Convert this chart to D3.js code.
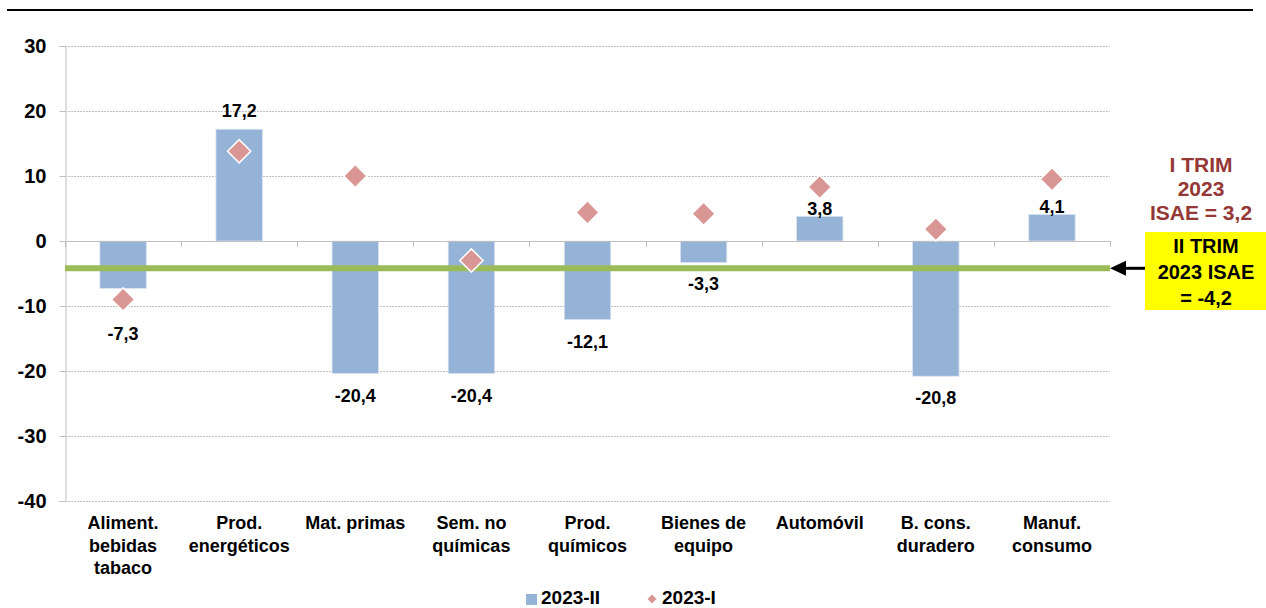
<!DOCTYPE html>
<html><head><meta charset="utf-8">
<script src="https://cdn.jsdelivr.net/npm/d3@7"></script>
<style>body{margin:0;background:#fff}svg{display:block;font-family:"Liberation Sans",Arial,sans-serif;font-weight:bold}</style>
</head><body><svg id="c" width="1266" height="608"></svg>
<script>
const categories = [["Aliment.","bebidas","tabaco"],["Prod.","energéticos"],["Mat. primas"],["Sem. no","químicas"],["Prod.","químicos"],["Bienes de","equipo"],["Automóvil"],["B. cons.","duradero"],["Manuf.","consumo"]];
const series2023II = [-7.3, 17.2, -20.4, -20.4, -12.1, -3.3, 3.8, -20.8, 4.1];
const series2023I = [-9.0, 13.8, 10.0, -3.0, 4.4, 4.2, 8.3, 1.8, 9.5];
const yTicks = [30, 20, 10, 0, -10, -20, -30, -40];
const isaeII = -4.2;
const legendNames = ["2023-II", "2023-I"];
const noteI = ["I TRIM", "2023", "ISAE = 3,2"];
const noteII = ["II TRIM", "2023 ISAE", "= -4,2"];

const svg = d3.select("#c");
const L = 65, R = 1110;
const y = d3.scaleLinear().domain([-40, 30]).range([501, 46]);
const idx = categories.map((d, i) => i);
const x = d3.scaleBand().domain(idx).range([L, R]).paddingInner(0.6).paddingOuter(0.3);
const step = x.step();
const fmt = v => d3.format(".1f")(v).replace(".", ",").replace("−", "-");

// top rule
svg.append("line").attr("x1", 7).attr("x2", 1253).attr("y1", 10).attr("y2", 10).attr("stroke", "#000").attr("stroke-width", 2);

// gridlines
svg.append("g").selectAll("line").data(yTicks.filter(t => t !== 0)).join("line")
  .attr("x1", L).attr("x2", R).attr("y1", d => y(d) + 0.5).attr("y2", d => y(d) + 0.5)
  .attr("stroke", "#c0c0c0").attr("stroke-dasharray", "2,1").attr("stroke-width", 1);

// y axis
const ya = svg.append("g").attr("transform", `translate(${L + 0.5},0)`)
  .call(d3.axisLeft(y).tickValues(yTicks).tickSize(6).tickPadding(13).tickFormat(d => d3.format("d")(d).replace("−", "-")));
ya.select(".domain").attr("stroke", "#bfbfbf");
ya.selectAll(".tick line").attr("stroke", "#bfbfbf");
ya.selectAll("text").attr("font-size", 20).attr("font-weight", "bold").attr("fill", "#000").attr("font-family", "Liberation Sans, Arial, sans-serif");

// bars
svg.append("g").selectAll("rect").data(series2023II).join("rect")
  .attr("x", (d, i) => x(i)).attr("width", x.bandwidth())
  .attr("y", d => y(Math.max(0, d))).attr("height", d => Math.abs(y(d) - y(0)))
  .attr("fill", "#95b3d7").attr("stroke", "#dbe5f1").attr("stroke-width", 0.8);

// zero axis with category ticks
svg.append("line").attr("x1", L).attr("x2", R).attr("y1", y(0) + 0.5).attr("y2", y(0) + 0.5).attr("stroke", "#bfbfbf");
svg.append("g").selectAll("line").data(d3.range(categories.length + 1)).join("line")
  .attr("x1", i => Math.round(L + i * step) + 0.5).attr("x2", i => Math.round(L + i * step) + 0.5)
  .attr("y1", y(0)).attr("y2", y(0) + 6).attr("stroke", "#bfbfbf");

// green ISAE line
svg.append("line").attr("x1", L).attr("x2", R).attr("y1", y(isaeII)).attr("y2", y(isaeII))
  .attr("stroke", "#9bbb59").attr("stroke-width", 6);

// diamonds
const dsym = d3.symbol(d3.symbolSquare, 270);
svg.append("g").selectAll("path").data(series2023I).join("path")
  .attr("d", dsym)
  .attr("transform", (d, i) => `translate(${x(i) + x.bandwidth() / 2},${y(d)}) rotate(45)`)
  .attr("fill", "#d99694").attr("stroke", "#fff").attr("stroke-width", 1.5);

// value labels
svg.append("g").selectAll("text").data(series2023II).join("text")
  .attr("x", (d, i) => x(i) + x.bandwidth() / 2)
  .attr("y", (d, i) => {
    if (d >= 0) return y(d) - (d > 10 ? 12 : 1);
    const bottom = Math.max(y(d), y(series2023I[i]) + 12);
    return bottom + 28;
  })
  .attr("text-anchor", "middle").attr("font-size", 18).attr("fill", "#000").text(d => fmt(d));

// category labels
const cg = svg.append("g").selectAll("text").data(categories).join("text")
  .attr("x", (d, i) => x(i) + x.bandwidth() / 2).attr("y", 529)
  .attr("text-anchor", "middle").attr("font-size", 18).attr("fill", "#000");
cg.selectAll("tspan").data(d => d).join("tspan")
  .attr("x", function () { return d3.select(this.parentNode).attr("x"); })
  .attr("dy", (d, j) => j === 0 ? 0 : 22.5).text(d => d);

// annotation I TRIM
svg.append("g").selectAll("text").data(noteI).join("text")
  .attr("x", 1201).attr("y", (d, i) => 172 + i * 24).attr("text-anchor", "middle")
  .attr("font-size", 21).attr("fill", "#953735").text(d => d);

// yellow box
svg.append("rect").attr("x", 1145).attr("y", 232).attr("width", 121).attr("height", 78).attr("fill", "#ffff00");
svg.append("g").selectAll("text").data(noteII).join("text")
  .attr("x", 1206).attr("y", (d, i) => 253 + i * 26).attr("text-anchor", "middle")
  .attr("font-size", 20).attr("fill", "#000").text(d => d);

// arrow
svg.append("line").attr("x1", 1145).attr("x2", 1122).attr("y1", y(isaeII)).attr("y2", y(isaeII)).attr("stroke", "#000").attr("stroke-width", 3);
svg.append("path").attr("d", `M${R},${y(isaeII)} L${R + 16},${y(isaeII) - 7.5} L${R + 16},${y(isaeII) + 7.5} Z`).attr("fill", "#000");

// legend
const lg = svg.append("g");
lg.append("rect").attr("x", 526).attr("y", 594).attr("width", 11).attr("height", 11).attr("fill", "#95b3d7");
lg.append("text").attr("x", 541).attr("y", 604).attr("font-size", 19).attr("fill", "#000").text(legendNames[0]);
lg.append("path").attr("d", d3.symbol(d3.symbolSquare, 40)).attr("transform", "translate(652,599) rotate(45)").attr("fill", "#d99694");
lg.append("text").attr("x", 662).attr("y", 604).attr("font-size", 19).attr("fill", "#000").text(legendNames[1]);
</script></body></html>
